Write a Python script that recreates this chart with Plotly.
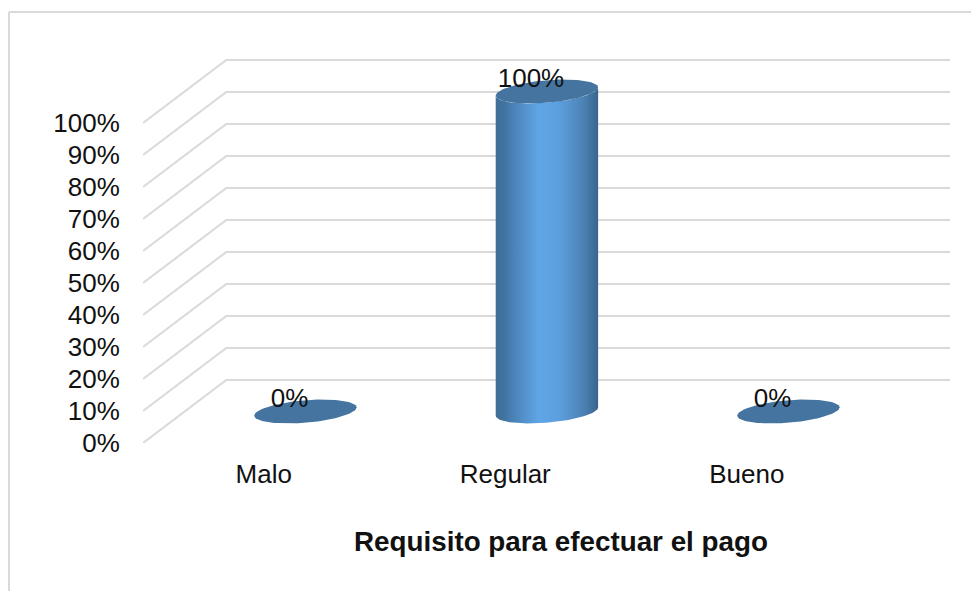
import numpy as np
import plotly.graph_objects as go

# Data
categories = ['Malo', 'Regular', 'Bueno']
values = [0, 100, 0]
y_ticks = [0, 10, 20, 30, 40, 50, 60, 70, 80, 90, 100]
y_tick_labels = ['0%', '10%', '20%', '30%', '40%', '50%', '60%', '70%', '80%', '90%', '100%']
axis_title = 'Requisito para efectuar el pago'

# Fake 3D depth, in axis units
depth_x = 0.345
depth_y = 19.7
x_max = 2.8416
grid_color = '#d9d9d9'
top_color = '#44749f'
text_font = dict(family='Liberation Sans', size=26, color='#111111')


def ellipse(cx, cy, t):
    """Tilted ellipse outline, like the base of the cylinder"""
    return cx + 0.212 * np.cos(t), cy - 3.5 * np.sin(t) + 1.3 * np.cos(t)


fig = go.Figure()

# Receding gridlines
for tick in y_ticks:
    fig.add_trace(go.Scatter(
        x=[-0.5, -0.5 + depth_x, x_max],
        y=[tick, tick + depth_y, tick + depth_y],
        mode='lines', line=dict(color=grid_color, width=2),
        cliponaxis=False, hoverinfo='skip'))

# Cylinders
for i, val in enumerate(values):
    cx = i + depth_x / 2
    cy = depth_y / 2
    if val > 0:
        t_low = np.linspace(0, np.pi, 60)
        t_up = np.linspace(np.pi, 0, 60)
        x_low, y_low = ellipse(cx, cy, t_low)
        x_up, y_up = ellipse(cx, cy + val, t_up)
        fig.add_trace(go.Scatter(
            x=np.concatenate([x_low, x_up]),
            y=np.concatenate([y_low, y_up]),
            mode='lines', line=dict(width=0), fill='toself',
            fillgradient=dict(type='horizontal', colorscale=[
                [0, '#3f6f99'], [0.08, '#41739f'], [0.2, '#4d86bd'],
                [0.42, '#5fa6e6'], [0.62, '#5c9fdd'], [0.85, '#4c83b6'],
                [0.95, '#40709b'], [1, '#39648a']]),
            cliponaxis=False, hoverinfo='skip'))
    t = np.linspace(0, 2 * np.pi, 100)
    x_top, y_top = ellipse(cx, cy + val, t)
    fig.add_trace(go.Scatter(
        x=x_top, y=y_top, mode='lines', line=dict(width=0),
        fill='toself', fillcolor=top_color, hoverinfo='skip'))

# Data labels
fig.add_trace(go.Scatter(
    x=[i + depth_x / 2 - 0.066 for i in range(len(values))],
    y=[v + depth_y / 2 + 3.4 for v in values],
    mode='text', text=[f'{v}%' for v in values],
    textposition='middle center', textfont=text_font,
    cliponaxis=False, hoverinfo='skip'))

# The page adds 8px of body margin, so the figure is 8px smaller each way
fig.update_layout(
    width=971, height=583,
    margin=dict(l=135, r=29, t=51, b=148),
    paper_bgcolor='white', plot_bgcolor='white',
    showlegend=False,
    font=text_font,
    xaxis=dict(
        range=[-0.5, x_max], tickmode='array', tickvals=[0, 1, 2],
        ticktext=categories, showgrid=False, zeroline=False, showline=False,
        ticks='outside', ticklen=8, tickcolor='white', fixedrange=True),
    yaxis=dict(
        range=[0, 120], tickmode='array', tickvals=y_ticks,
        ticktext=y_tick_labels, showgrid=False, zeroline=False, showline=False,
        ticks='outside', ticklen=17, tickcolor='white', fixedrange=True),
)

# Axis title sits off centre, so it goes in as an annotation
fig.add_annotation(
    x=1.23, y=(443 - 541) / 384, xref='x', yref='paper',
    xanchor='center', yanchor='middle', text=f'<b>{axis_title}</b>',
    showarrow=False, font=dict(family='Liberation Sans', size=27.8, color='#111111'))

# Chart frame: only top and left edges fall inside the picture
fig.add_shape(type='line', xref='paper', yref='paper',
              x0=(9 - 143) / 807, x1=(979 - 143) / 807,
              y0=(443 - 12) / 384, y1=(443 - 12) / 384,
              line=dict(color=grid_color, width=2))
fig.add_shape(type='line', xref='paper', yref='paper',
              x0=(9 - 143) / 807, x1=(9 - 143) / 807,
              y0=(443 - 12) / 384, y1=(443 - 591) / 384,
              line=dict(color=grid_color, width=2))

fig.write_html('out.html')
